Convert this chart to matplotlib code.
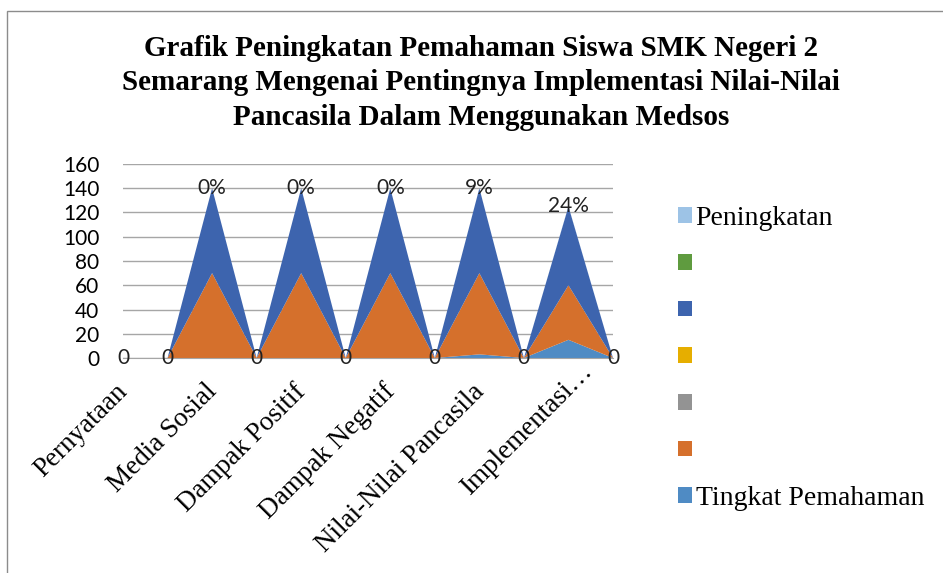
import numpy as np
import matplotlib.pyplot as plt
from matplotlib.patches import Patch, Rectangle
from matplotlib.transforms import ScaledTranslation

# categories (Excel only shows every other label)
categories = ['Pernyataan', '', 'Media Sosial', '', 'Dampak Positif', '',
              'Dampak Negatif', '', 'Nilai-Nilai Pancasila', '', 'Implementasi…', '']

# stacked series, bottom to top
tingkat_pemahaman = [0, 0, 0, 0, 0, 0, 0, 0, 3, 0, 15, 0]
seri_oranye = [0, 0, 70, 0, 70, 0, 70, 0, 67, 0, 45, 0]
seri_abu = [0] * 12
seri_kuning = [0] * 12
seri_biru = [0, 0, 70, 0, 70, 0, 70, 0, 70, 0, 65, 0]
seri_hijau = [0] * 12
peningkatan = [0, 0, 0, 0, 0, 0, 0, 0, 0.09, 0, 0.24, 0]
label_peningkatan = ['0', '0', '0%', '0', '0%', '0', '0%', '0', '9%', '0', '24%', '0']

series_names = ['Tingkat Pemahaman', '', '', '', '', '', 'Peningkatan']
series_colors = ['#4F8BC4', '#D5702C', '#939393', '#E6AE00', '#3D64AE', '#5F9B3F', '#9DC3E6']

title = ("Grafik Peningkatan Pemahaman Siswa SMK Negeri 2\n"
         "Semarang Mengenai Pentingnya Implementasi Nilai-Nilai\n"
         "Pancasila Dalam Menggunakan Medsos")

serif = 'Liberation Serif'
sans = 'Lato'

fig = plt.figure(figsize=(9.43, 5.73), dpi=100)
W, H = 943, 573
ax = fig.add_axes([123 / W, 1 - 358 / H, 490 / W, 194 / H])

x = np.arange(len(categories))
data = [tingkat_pemahaman, seri_oranye, seri_abu, seri_kuning, seri_biru, seri_hijau, peningkatan]
ax.stackplot(x, *data, colors=series_colors, linewidth=0)

# data labels on top series
total = np.sum(np.array(data), axis=0)
for xi, yi, lab in zip(x, total, label_peningkatan):
    ax.text(xi, yi, lab, ha='center', va='center', fontsize=15, family=sans,
            color='#222222', clip_on=False)

ax.set_xlim(0, len(categories) - 1)
ax.set_ylim(0, 160)
ax.set_yticks(range(0, 161, 20))
ax.grid(axis='y', color='#a6a6a6', linewidth=1)
ax.set_axisbelow(True)
for s in ['top', 'right', 'left']:
    ax.spines[s].set_visible(False)
ax.spines['bottom'].set_color('#a6a6a6')

ax.tick_params(axis='y', length=0, pad=17, labelsize=15)
for t in ax.get_yticklabels():
    t.set_family(sans)

ax.set_xticks(x)
ax.set_xticklabels(categories, rotation=45, ha='right', va='center',
                   rotation_mode='anchor', family=serif, fontsize=19.5)
ax.tick_params(axis='x', length=0, pad=21.5)
for t in ax.get_xticklabels():
    dx, dy = 1, 0
    if t.get_text().endswith('…'):
        # truncated label sits further along its direction
        dx, dy = 20, 20
    off = ScaledTranslation(dx / 100, dy / 100, fig.dpi_scale_trans)
    t.set_transform(t.get_transform() + off)

fig.text(481 / W, 1 - 83 / H, title, ha='center', va='center', fontsize=21,
         fontweight='bold', family=serif, linespacing=1.35)

# legend (reversed like Excel)
handles = [Patch(facecolor=c) for c in series_colors][::-1]
names = [n if n else ' ' for n in series_names][::-1]
fig.legend(handles, names, loc='upper left', bbox_to_anchor=(678 / W, 1 - 206 / H),
           frameon=False, prop={'family': serif, 'size': 20},
           handlelength=0.5, handleheight=0.5, handletextpad=0.13,
           labelspacing=0.78, borderpad=0, borderaxespad=0)

# chart border (cropped)
fig.patches.append(Rectangle((7 / W, -0.1), 1.2, 1.1 - 11 / H, transform=fig.transFigure,
                             fill=False, edgecolor='#8c8c8c', linewidth=1))

fig.savefig('out.png', dpi=100)
